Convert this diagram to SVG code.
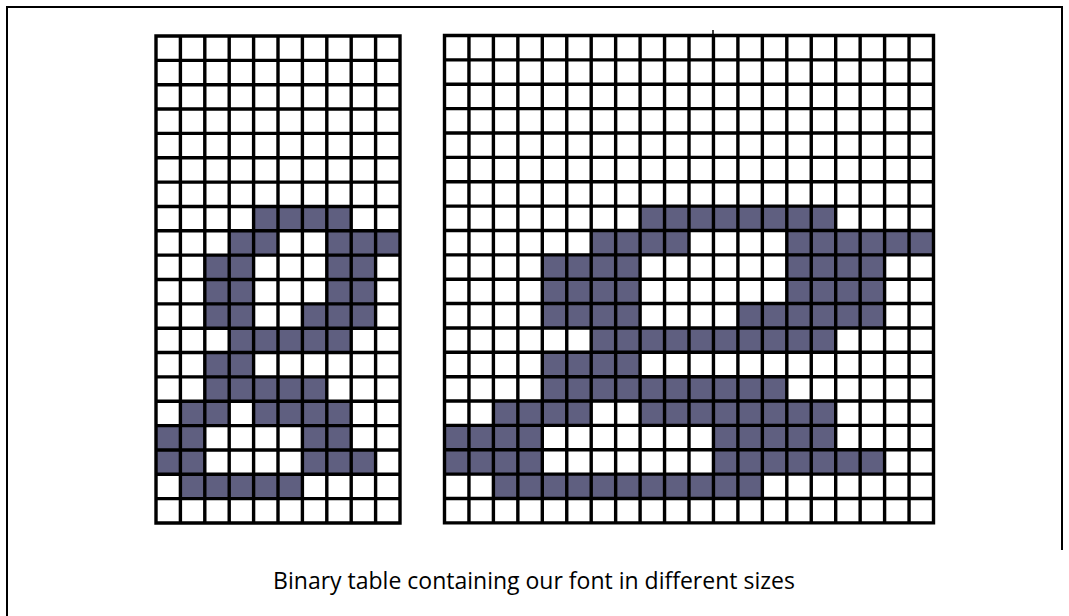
<svg xmlns="http://www.w3.org/2000/svg" width="1069" height="616" viewBox="0 0 1069 616">
<style>
.bg{fill:#ffffff}
.frame{fill:none;stroke:#000;stroke-width:2}
.on{fill:#5f5f80}
.grid{fill:none;stroke:#000;stroke-width:3.4;vector-effect:non-scaling-stroke;stroke-linecap:square}
.cap{font-family:"Open Sans","Noto Sans",sans-serif;font-size:23px;fill:#000}
</style>
<rect class="bg" x="0" y="0" width="1069" height="616"/>
<g id="frame">
<path class="frame" d="M7 616V7H1062V550"/>
</g>
<g id="grid-small" transform="translate(156 36) scale(24.4 24.35)">
<g class="cells">
<rect class="on" x="4" y="7" width="4" height="1"/>
<rect class="on" x="3" y="8" width="2" height="1"/>
<rect class="on" x="7" y="8" width="3" height="1"/>
<rect class="on" x="2" y="9" width="2" height="1"/>
<rect class="on" x="7" y="9" width="2" height="1"/>
<rect class="on" x="2" y="10" width="2" height="1"/>
<rect class="on" x="7" y="10" width="2" height="1"/>
<rect class="on" x="2" y="11" width="2" height="1"/>
<rect class="on" x="6" y="11" width="3" height="1"/>
<rect class="on" x="3" y="12" width="5" height="1"/>
<rect class="on" x="2" y="13" width="2" height="1"/>
<rect class="on" x="2" y="14" width="5" height="1"/>
<rect class="on" x="1" y="15" width="2" height="1"/>
<rect class="on" x="4" y="15" width="4" height="1"/>
<rect class="on" x="0" y="16" width="2" height="1"/>
<rect class="on" x="6" y="16" width="2" height="1"/>
<rect class="on" x="0" y="17" width="2" height="1"/>
<rect class="on" x="6" y="17" width="3" height="1"/>
<rect class="on" x="1" y="18" width="5" height="1"/>
</g>
<path class="grid" d="M0 0V20M1 0V20M2 0V20M3 0V20M4 0V20M5 0V20M6 0V20M7 0V20M8 0V20M9 0V20M10 0V20M0 0H10M0 1H10M0 2H10M0 3H10M0 4H10M0 5H10M0 6H10M0 7H10M0 8H10M0 9H10M0 10H10M0 11H10M0 12H10M0 13H10M0 14H10M0 15H10M0 16H10M0 17H10M0 18H10M0 19H10M0 20H10"/>
</g>
<g id="grid-large" transform="translate(444.5 35.5) scale(24.45 24.37)">
<g class="cells">
<rect class="on" x="8" y="7" width="8" height="1"/>
<rect class="on" x="6" y="8" width="4" height="1"/>
<rect class="on" x="14" y="8" width="6" height="1"/>
<rect class="on" x="4" y="9" width="4" height="1"/>
<rect class="on" x="14" y="9" width="4" height="1"/>
<rect class="on" x="4" y="10" width="4" height="1"/>
<rect class="on" x="14" y="10" width="4" height="1"/>
<rect class="on" x="4" y="11" width="4" height="1"/>
<rect class="on" x="12" y="11" width="6" height="1"/>
<rect class="on" x="6" y="12" width="10" height="1"/>
<rect class="on" x="4" y="13" width="4" height="1"/>
<rect class="on" x="4" y="14" width="10" height="1"/>
<rect class="on" x="2" y="15" width="4" height="1"/>
<rect class="on" x="8" y="15" width="8" height="1"/>
<rect class="on" x="0" y="16" width="4" height="1"/>
<rect class="on" x="11" y="16" width="5" height="1"/>
<rect class="on" x="0" y="17" width="4" height="1"/>
<rect class="on" x="11" y="17" width="7" height="1"/>
<rect class="on" x="2" y="18" width="11" height="1"/>
</g>
<path class="grid" d="M0 0V20M1 0V20M2 0V20M3 0V20M4 0V20M5 0V20M6 0V20M7 0V20M8 0V20M9 0V20M10 0V20M11 0V20M12 0V20M13 0V20M14 0V20M15 0V20M16 0V20M17 0V20M18 0V20M19 0V20M20 0V20M0 0H20M0 1H20M0 2H20M0 3H20M0 4H20M0 5H20M0 6H20M0 7H20M0 8H20M0 9H20M0 10H20M0 11H20M0 12H20M0 13H20M0 14H20M0 15H20M0 16H20M0 17H20M0 18H20M0 19H20M0 20H20"/>
</g>
<line x1="713" y1="30" x2="713" y2="36" stroke="#000" stroke-width="1.5"/>
<g id="caption">
<text class="cap" x="534" y="589" text-anchor="middle">Binary table containing our font in different sizes</text>
</g>
</svg>
